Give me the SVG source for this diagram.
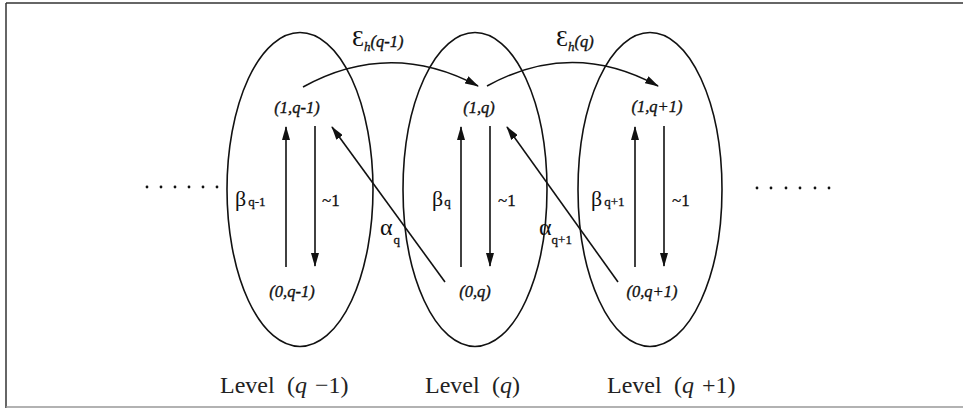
<svg xmlns="http://www.w3.org/2000/svg" width="963" height="408" viewBox="0 0 963 408">
<style>
.ln{fill:none;stroke:#111;stroke-width:1.6}
.el{fill:none;stroke:#111;stroke-width:1.6}
.nd{font-family:"Liberation Serif","Times New Roman",serif;font-style:italic;font-size:16.5px;fill:#111;stroke:#111;stroke-width:0.35;text-anchor:middle}
.gk{font-family:"Liberation Serif","DejaVu Serif",serif;font-size:22px;fill:#111}
.sb{font-family:"Liberation Serif","DejaVu Serif",serif;font-size:13px;fill:#111;stroke:#111;stroke-width:0.3}
.tl{font-family:"Liberation Serif","DejaVu Serif",serif;font-size:17px;fill:#111;stroke:#111;stroke-width:0.3}
.lv{font-family:"Liberation Serif","Times New Roman",serif;font-size:24px;fill:#222}
.it{font-style:italic}
.dot{fill:#111}
</style>
<defs>
<marker id="ah" viewBox="0 0 14 8" refX="13" refY="4" markerWidth="14" markerHeight="8" markerUnits="userSpaceOnUse" orient="auto">
<path d="M0,0 L14,4 L0,8 z" fill="#111"/>
</marker>
</defs>
<rect width="963" height="408" fill="#fff"/>
<g id="frame">
<line x1="6" y1="3" x2="963" y2="3" stroke="#333" stroke-width="1.5"/>
<line x1="6" y1="3" x2="6" y2="408" stroke="#333" stroke-width="1.5"/>
<line x1="6" y1="407" x2="963" y2="407" stroke="#999" stroke-width="1.5"/>
</g>
<g id="level-q-1">
<ellipse class="el" cx="300" cy="189.5" rx="73" ry="157"/>
<text class="lv" x="220" y="393">Level<tspan x="287">(</tspan><tspan class="it">q</tspan><tspan x="315">−1)</tspan></text>
</g>
<g id="level-q">
<ellipse class="el" cx="475" cy="189.5" rx="72" ry="157"/>
<text class="lv" x="425" y="393">Level<tspan x="492">(</tspan><tspan class="it">q</tspan>)</text>
</g>
<g id="level-q+1">
<ellipse class="el" cx="650" cy="189.5" rx="72" ry="157"/>
<text class="lv" x="607" y="393">Level<tspan x="674">(</tspan><tspan class="it">q</tspan><tspan x="702">+1)</tspan></text>
</g>
<g id="node-1-q-1"><text class="nd" x="297" y="113">(1,q-1)</text></g>
<g id="node-1-q"><text class="nd" x="479" y="113">(1,q)</text></g>
<g id="node-1-q+1"><text class="nd" x="657" y="112">(1,q+1)</text></g>
<g id="node-0-q-1"><text class="nd" x="292" y="297">(0,q-1)</text></g>
<g id="node-0-q"><text class="nd" x="475" y="297">(0,q)</text></g>
<g id="node-0-q+1"><text class="nd" x="652" y="297">(0,q+1)</text></g>
<g id="connectors">
<path class="ln" d="M303,87 Q390,39 478,86" marker-end="url(#ah)"/>
<path class="ln" d="M487,86 Q572,39 658,86" marker-end="url(#ah)"/>
<line class="ln" x1="286" y1="267" x2="286" y2="127" marker-end="url(#ah)"/>
<line class="ln" x1="315" y1="126" x2="315" y2="266" marker-end="url(#ah)"/>
<line class="ln" x1="461" y1="267" x2="461" y2="127" marker-end="url(#ah)"/>
<line class="ln" x1="490" y1="126" x2="490" y2="266" marker-end="url(#ah)"/>
<line class="ln" x1="635" y1="267" x2="635" y2="127" marker-end="url(#ah)"/>
<line class="ln" x1="664" y1="126" x2="664" y2="266" marker-end="url(#ah)"/>
<line class="ln" x1="445" y1="282" x2="332" y2="127" marker-end="url(#ah)"/>
<line class="ln" x1="618" y1="282" x2="507" y2="127" marker-end="url(#ah)"/>
</g>
<g id="labels">
<text x="352" y="46"><tspan class="gk" style="font-size:24px">Ɛ</tspan><tspan class="sb it" dy="5">h</tspan><tspan class="nd" dy="-4" style="text-anchor:start">(q-1)</tspan></text>
<text x="556" y="46"><tspan class="gk" style="font-size:24px">Ɛ</tspan><tspan class="sb it" dy="5">h</tspan><tspan class="nd" dy="-4" style="text-anchor:start">(q)</tspan></text>
<text x="235" y="206"><tspan class="gk">β</tspan><tspan class="sb" dx="2">q-1</tspan></text>
<text x="432" y="206"><tspan class="gk">β</tspan><tspan class="sb" dx="1">q</tspan></text>
<text x="591" y="206"><tspan class="gk">β</tspan><tspan class="sb" dx="2">q+1</tspan></text>
<text class="tl" x="322" y="206">~1</text>
<text class="tl" x="498" y="206">~1</text>
<text class="tl" x="672" y="206">~1</text>
<text x="380" y="235"><tspan class="gk" style="font-size:24px">α</tspan><tspan class="sb" dy="9" dx="1">q</tspan></text>
<text x="539" y="235"><tspan class="gk" style="font-size:24px">α</tspan><tspan class="sb" dy="9" dx="0">q+1</tspan></text>
</g>
<g id="dots-left" class="dot">
<circle cx="147" cy="187" r="1.4"/><circle cx="161" cy="187" r="1.4"/><circle cx="175" cy="187" r="1.4"/><circle cx="189" cy="187" r="1.4"/><circle cx="203" cy="187" r="1.4"/><circle cx="217" cy="187" r="1.4"/>
</g>
<g id="dots-right" class="dot">
<circle cx="757" cy="188" r="1.4"/><circle cx="771" cy="188" r="1.4"/><circle cx="786" cy="188" r="1.4"/><circle cx="800" cy="188" r="1.4"/><circle cx="815" cy="188" r="1.4"/><circle cx="829" cy="188" r="1.4"/>
</g>
</svg>
